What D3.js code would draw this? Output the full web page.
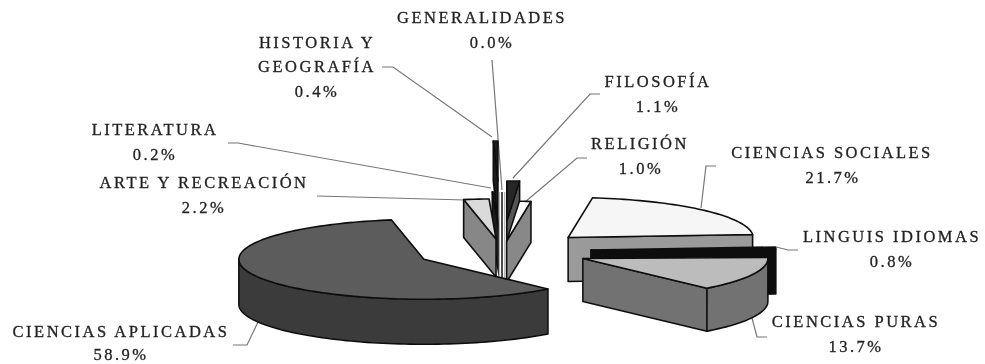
<!DOCTYPE html>
<html>
<head>
<meta charset="utf-8">
<script src="https://cdnjs.cloudflare.com/ajax/libs/d3/7.8.5/d3.min.js"></script>
<style>
  body { margin: 0; background: #fff; }
  text { font-family: "Liberation Serif", serif; font-size: 16.5px; fill: #222; stroke: #222; stroke-width: 0.3px; letter-spacing: 2.5px; text-anchor: middle; }
</style>
</head>
<body>
<div id="chart"></div>
<script>
// data, clockwise from 12 o'clock
const categories = ['GENERALIDADES', 'FILOSOFÍA', 'RELIGIÓN', 'CIENCIAS SOCIALES', 'LINGUIS IDIOMAS',
                    'CIENCIAS PURAS', 'CIENCIAS APLICADAS', 'ARTE Y RECREACIÓN', 'LITERATURA', 'HISTORIA Y GEOGRAFÍA'];
const values = [0.0, 1.1, 1.0, 21.7, 0.8, 13.7, 58.9, 2.2, 0.2, 0.4];

// how far each slice is pulled out, and the height of its wall
const explode = [88, 139, 46, 91, 89, 88, 87, 56, 88, 324];
const depth = [46, 40, 41, 44, 45, 43, 45, 38, 44, 40];
const topColors = ['#fff', '#262626', '#fcfcfc', '#f6f6f6', '#111', '#bcbcbc', '#5b5b5b', '#dadada', '#1c1c1c', '#1c1c1c'];
const wallColors = ['#fff', '#555', '#888', '#9a9a9a', '#0c0c0c', '#727272', '#3b3b3b', '#878787', '#1c1c1c', '#1c1c1c'];
// back to front
const drawOrder = [9, 8, 1, 7, 2, 0, 3, 4, 5, 6];

const width = 985, height = 364;
const center = {x: 502, y: 251};
const rx = 185, ry = 40;
const tilt = ry / rx;

// label text: [text, x center, baseline]
const labelLines = [
  ['GENERALIDADES', 482, 23], ['0.0%', 492, 48],
  ['HISTORIA Y', 317, 48], ['GEOGRAFÍA', 317, 72], ['0.4%', 317, 97],
  ['LITERATURA', 155, 135], ['0.2%', 155, 160],
  ['ARTE Y RECREACIÓN', 204, 188], ['2.2%', 204, 213],
  ['FILOSOFÍA', 658, 87], ['1.1%', 658, 112],
  ['RELIGIÓN', 640, 149], ['1.0%', 641, 174],
  ['CIENCIAS SOCIALES', 832, 158], ['21.7%', 833, 183],
  ['LINGUIS IDIOMAS', 892, 242], ['0.8%', 892, 267],
  ['CIENCIAS PURAS', 856, 327], ['13.7%', 856, 352],
  ['CIENCIAS APLICADAS', 121, 337], ['58.9%', 121, 360]
];
const leaders = [
  [[492, 60], [502, 190]],
  [[382, 67], [393, 67], [492, 137]],
  [[228, 143], [238, 143], [491, 188]],
  [[317, 196], [465, 200]],
  [[600, 94], [590, 94], [513, 178]],
  [[587, 158], [577, 158], [525, 202]],
  [[716, 166], [706, 166], [701, 208]],
  [[798, 250], [788, 250], [776, 247]],
  [[767, 337], [757, 337], [752, 318]],
  [[233, 345], [247, 345], [258, 322]]
];

const svg = d3.select('#chart').append('svg')
    .attr('width', width)
    .attr('height', height);

svg.append('filter').attr('id', 'soft')
    .append('feGaussianBlur').attr('stdDeviation', 0.45);

const chart = svg.append('g').attr('filter', 'url(#soft)');

const pie = d3.pie().sort(null).value(d => d)
    .startAngle(0).endAngle(2 * Math.PI);
const arcs = pie(values);

const line = d3.line();

// slice centre after explosion
function apex(i) {
  const mid = (arcs[i].startAngle + arcs[i].endAngle) / 2;
  return [center.x + explode[i] * Math.sin(mid),
          center.y - explode[i] * Math.cos(mid) * tilt];
}

function rim(i, angle) {
  const a = apex(i);
  return [a[0] + rx * Math.sin(angle), a[1] - ry * Math.cos(angle)];
}

function arcPoints(i, a0, a1) {
  const n = Math.max(2, Math.ceil((a1 - a0) / 0.03));
  return d3.range(n + 1).map(k => rim(i, a0 + (a1 - a0) * k / n));
}

const down = (p, d) => [p[0], p[1] + d];

function drawFace(g, pts, fill) {
  g.append('path')
      .attr('d', line(pts) + 'Z')
      .attr('fill', fill)
      .attr('stroke', '#111')
      .attr('stroke-width', 1.6)
      .attr('stroke-linejoin', 'round');
}

// leaders sit under the slices
chart.selectAll('.leader')
    .data(leaders).enter()
    .append('path')
    .attr('class', 'leader')
    .attr('d', d => line(d))
    .attr('fill', 'none')
    .attr('stroke', '#777')
    .attr('stroke-width', 1.2);

drawOrder.forEach(function (i) {
  const g = chart.append('g');
  const a0 = arcs[i].startAngle, a1 = arcs[i].endAngle;
  const a = apex(i), d = depth[i];

  if (values[i] === 0) {
    // empty slice: only a thin standing sliver
    const pts = [rim(i, a0), down(a, d)];
    [[6.5, '#999'], [4.6, '#fff'], [1.6, '#222']].forEach(function (s) {
      g.append('path').attr('d', line(pts))
          .attr('stroke', s[1]).attr('stroke-width', s[0]).attr('fill', 'none');
    });
    return;
  }

  // cut faces that look towards the viewer
  if (a0 > Math.PI) {
    const r = rim(i, a0);
    drawFace(g, [a, r, down(r, d), down(a, d)], wallColors[i]);
  }
  if (a1 < Math.PI) {
    const r = rim(i, a1);
    drawFace(g, [a, r, down(r, d), down(a, d)], wallColors[i]);
  }

  // outer wall, front half only
  const w0 = Math.max(a0, Math.PI / 2), w1 = Math.min(a1, 3 * Math.PI / 2);
  if (w1 > w0) {
    const upper = arcPoints(i, w0, w1);
    const lower = upper.map(p => down(p, d)).reverse();
    drawFace(g, upper.concat(lower), wallColors[i]);
  }

  // top
  drawFace(g, [a].concat(arcPoints(i, a0, a1)), topColors[i]);
});

chart.selectAll('text')
    .data(labelLines).enter()
    .append('text')
    .attr('x', d => d[1])
    .attr('y', d => d[2])
    .text(d => d[0]);
</script>
</body>
</html>
